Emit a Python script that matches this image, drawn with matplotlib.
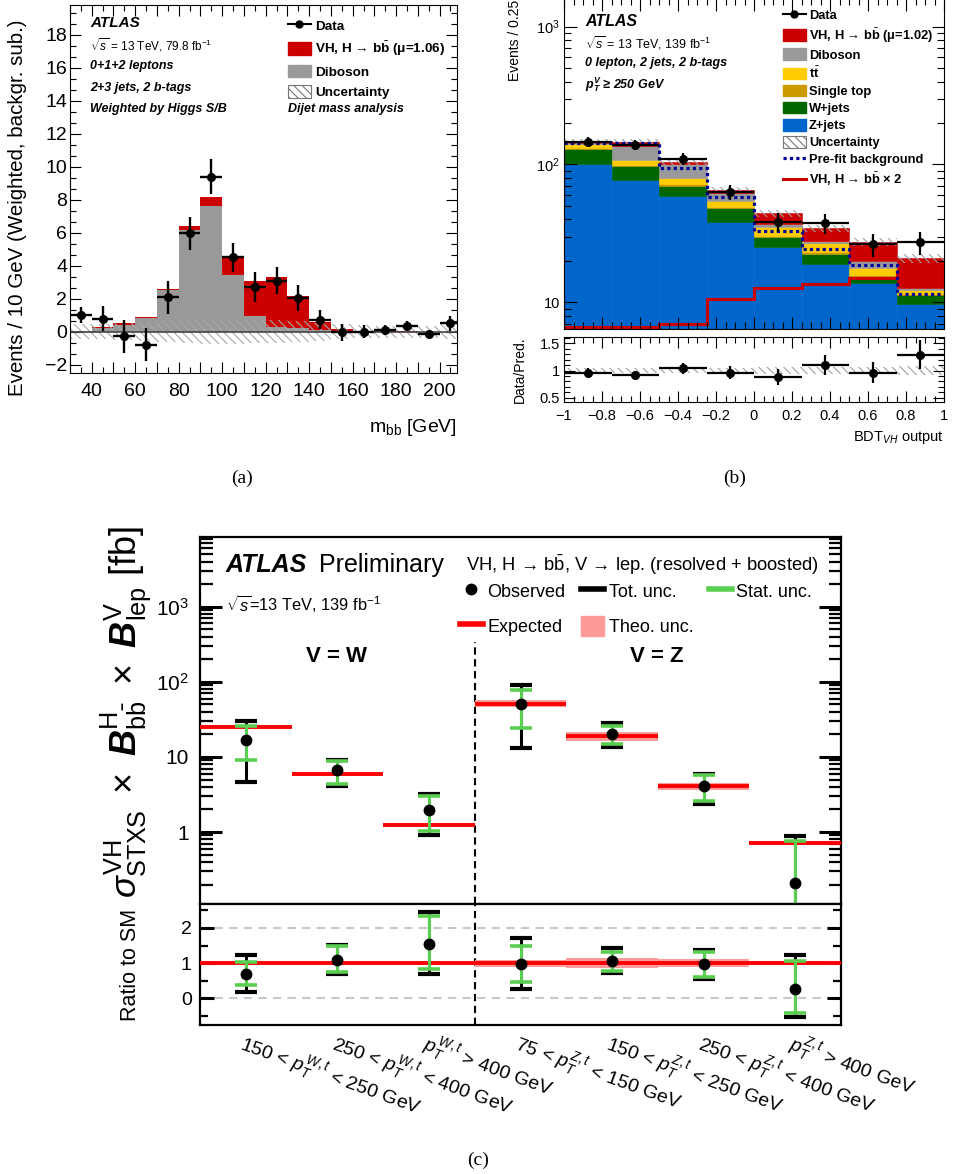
import numpy as np
import matplotlib
matplotlib.use('Agg')
import matplotlib.pyplot as plt
from matplotlib.lines import Line2D
from matplotlib.patches import Patch
from matplotlib.ticker import MultipleLocator, FixedLocator, FixedFormatter, FuncFormatter, AutoMinorLocator, LogLocator, NullFormatter

plt.rcParams['font.family'] = ['Liberation Sans', 'DejaVu Sans']
plt.rcParams['mathtext.fontset'] = 'custom'
plt.rcParams['mathtext.rm'] = 'Liberation Sans'
plt.rcParams['mathtext.it'] = 'Liberation Sans:italic'
plt.rcParams['mathtext.bf'] = 'Liberation Sans:bold'
plt.rcParams['mathtext.bfit'] = 'Liberation Sans:italic:bold'
plt.rcParams['mathtext.sf'] = 'Liberation Sans'
plt.rcParams['hatch.linewidth'] = 0.8
plt.rcParams['axes.unicode_minus'] = True

# ---------------- (a) dijet mass, background subtracted ----------------
a_edges = np.arange(30, 220, 10)
a_data = [1.0, 0.8, -0.26, -0.8, 2.1, 5.96, 9.4, 4.5, 2.7, 3.1, 2.06, 0.74, -0.04, 0.0, 0.1, 0.34, -0.14, 0.5]
a_err = [0.5, 0.75, 1.0, 1.0, 1.0, 1.0, 1.05, 0.9, 0.9, 0.84, 0.8, 0.6, 0.5, 0.4, 0.3, 0.3, 0.25, 0.45]
a_diboson = [0.02, 0.2, 0.4, 0.85, 2.5, 6.15, 7.6, 3.45, 0.95, 0.3, 0.2, 0.1, 0.05, 0.02, 0.01, 0.01, 0.0, 0.0]
a_vh = [0.01, 0.07, 0.1, 0.05, 0.12, 0.25, 0.55, 1.05, 2.15, 3.02, 1.95, 0.5, 0.1, 0.04, 0.02, 0.01, 0.01, 0.01]
a_unc = [0.45, 0.45, 0.5, 0.55, 0.65, 0.7, 0.75, 0.75, 0.7, 0.7, 0.65, 0.55, 0.45, 0.4, 0.35, 0.35, 0.35, 0.45]

# ---------------- (b) BDT output, 0 lepton ----------------
b_edges = np.linspace(-1, 1, 9)
b_zjets = [100, 77.2, 59.1, 38.5, 25.3, 19.0, 13.7, 9.8]
b_wjets = [29.6, 20.7, 11.1, 9.6, 4.3, 3.4, 1.6, 1.5]
b_stop = [2.5, 2.0, 1.5, 1.2, 0.8, 0.6, 0.4, 0.25]
b_ttbar = [7.9, 8.1, 7.7, 5.0, 5.0, 4.0, 2.0, 0.75]
b_diboson = [4.0, 29.0, 20.6, 7.5, 1.6, 1.0, 2.3, 0.5]
b_vh = [3.0, 8.0, 4.8, 3.5, 7.3, 6.4, 7.5, 8.0]
b_unc = [0.05, 0.05, 0.05, 0.05, 0.06, 0.06, 0.07, 0.08]
b_data = [146.5, 138.7, 109.7, 63.5, 38.3, 37.4, 26.3, 27.2]
b_data_err = [12, 11.8, 10.5, 8, 6.2, 6.1, 5.1, 5.2]
b_prefit = [142.6, 142.6, 94.8, 58.4, 33.1, 24.3, 18.7, 11.5]
b_sig2 = [6.6, 6.6, 7.0, 10.6, 12.6, 13.5, 15.1, 16.0]
b_ratio = [0.963, 0.92, 1.044, 0.963, 0.877, 1.105, 0.963, 1.29]
b_ratio_err = [0.08, 0.08, 0.1, 0.12, 0.15, 0.19, 0.2, 0.27]

# ---------------- (c) STXS cross sections ----------------
c_labels = ['150 < $p_T^{W,t}$ < 250 GeV', '250 < $p_T^{W,t}$ < 400 GeV', '$p_T^{W,t}$ > 400 GeV',
            '75 < $p_T^{Z,t}$ < 150 GeV', '150 < $p_T^{Z,t}$ < 250 GeV', '250 < $p_T^{Z,t}$ < 400 GeV',
            '$p_T^{Z,t}$ > 400 GeV']
c_obs = [17, 6.6, 1.95, 50, 20.5, 4.07, 0.21]
c_exp = [24.7, 5.9, 1.25, 51.5, 19, 4.07, 0.72]
c_tot_hi = [30.2, 9.0, 3.2, 89.5, 27.9, 5.9, 0.885]
c_tot_lo = [4.6, 4.07, 0.9, 13, 13.6, 2.34, -0.39]
c_stat_hi = [25.7, 8.8, 3.0, 77, 25.7, 5.8, 0.77]
c_stat_lo = [9.0, 4.4, 1.03, 24, 15.1, 2.59, -0.3]
c_theo = [0.03, 0.03, 0.04, 0.10, 0.14, 0.12, 0.05]
r_obs = [0.69, 1.09, 1.54, 0.98, 1.06, 0.97, 0.27]
r_tot_hi = [1.23, 1.51, 2.45, 1.70, 1.42, 1.36, 1.23]
r_tot_lo = [0.19, 0.69, 0.69, 0.26, 0.71, 0.55, -0.54]
r_stat_hi = [1.04, 1.49, 2.33, 1.49, 1.32, 1.32, 1.05]
r_stat_lo = [0.37, 0.75, 0.83, 0.47, 0.78, 0.60, -0.41]

W, H = 956, 1174
fig = plt.figure(figsize=(W / 100, H / 100), dpi=100)


def rect(l, t, r, b):
    return [l / W, 1 - b / H, (r - l) / W, (b - t) / H]


def ftext(x, y, s, **kw):
    kw.setdefault('va', 'center')
    fig.text(x / W, 1 - y / H, s, **kw)


def atlas_ticks(ax, size, major, minor, width=0.8):
    ax.tick_params(which='both', direction='in', top=True, right=True, labelsize=size, width=width)
    ax.tick_params(which='major', length=major)
    ax.tick_params(which='minor', length=minor)


RED = '#cc0000'
GREY = '#999999'
HATCH = '\\\\\\\\'

# ======================= panel (a) =======================
axA = fig.add_axes(rect(70, 5, 457, 373))
ac = (a_edges[:-1] + a_edges[1:]) / 2
a_dib = np.array(a_diboson)
a_u = np.array(a_unc)
axA.bar(ac, a_dib, width=10, color=GREY, lw=0)
axA.bar(ac, a_vh, bottom=a_dib, width=10, color=RED, lw=0)
axA.bar(ac, 2 * a_u, bottom=-a_u, width=10, fill=False, hatch=HATCH, edgecolor='#a8a8a8', lw=0)
axA.axhline(0, color='#444444', lw=1.2)
axA.errorbar(ac, a_data, yerr=a_err, xerr=5, fmt='o', color='k', ms=5.5, elinewidth=1.7, capsize=0)
axA.set_xlim(30, 208)
axA.set_ylim(-2.5, 19.8)
axA.xaxis.set_major_locator(MultipleLocator(10))
axA.xaxis.set_minor_locator(MultipleLocator(5))
axA.xaxis.set_major_formatter(FuncFormatter(lambda v, p: f'{int(round(v))}' if round(v) % 20 == 0 else ''))
axA.yaxis.set_major_locator(MultipleLocator(2))
axA.yaxis.set_minor_locator(AutoMinorLocator(3))
axA.yaxis.set_major_formatter(FuncFormatter(lambda v, p: f'{int(round(v))}'.replace('-', '\u2212')))
atlas_ticks(axA, 14, 8, 4)
axA.tick_params(axis='y', pad=2)
axA.tick_params(axis='x', pad=7)

ftext(18, 208, 'Events / 10 GeV (Weighted, backgr. sub.)', rotation=90, ha='center', fontsize=14.8)
ftext(457, 427, r'm$_{\rm bb}$ [GeV]', ha='right', fontsize=14)
ftext(90, 23, 'ATLAS', fontsize=11, weight='bold', style='italic')
ftext(90, 45, r'$\sqrt{s}$ = 13 TeV, 79.8 fb$^{-1}$', fontsize=8.5)
ftext(90, 66, '0+1+2 leptons', fontsize=9, weight='bold', style='italic')
ftext(90, 88, '2+3 jets, 2 b-tags', fontsize=9, weight='bold', style='italic')
ftext(90, 109, 'Weighted by Higgs S/B', fontsize=9, weight='bold', style='italic')
ftext(288, 109, 'Dijet mass analysis', fontsize=9, weight='bold', style='italic')

a_handles = [Line2D([], [], color='k', marker='o', ms=5, lw=1.5),
             Patch(facecolor=RED, edgecolor=RED),
             Patch(facecolor=GREY, edgecolor=GREY),
             Patch(facecolor='white', edgecolor='#777777', hatch=HATCH, lw=0.8)]
a_names = ['Data', r'VH, H → b$\bar{\mathbf{b}}$ (μ=1.06)', 'Diboson', 'Uncertainty']
axA.legend(a_handles, a_names, loc='upper left', bbox_to_anchor=(288 / W, 1 - 19 / H),
           bbox_transform=fig.transFigure, frameon=False, prop={'size': 9.7, 'weight': 'bold'},
           handlelength=1.7, handleheight=1.05, handletextpad=0.3, labelspacing=0.5,
           borderpad=0, borderaxespad=0)

# ======================= panel (b) =======================
axB = fig.add_axes(rect(564, -2, 944, 329))
axBr = fig.add_axes(rect(564, 337, 944, 402))
bc = (b_edges[:-1] + b_edges[1:]) / 2
bw = 0.25
stack = [(b_zjets, '#0066cc'), (b_wjets, '#006600'), (b_stop, '#cc9900'),
         (b_ttbar, '#ffcc00'), (b_diboson, GREY), (b_vh, RED)]
bottom = np.zeros(len(bc))
for vals, col in stack:
    axB.bar(bc, vals, bottom=bottom, width=bw, color=col, edgecolor=col, lw=0.4)
    bottom = bottom + np.array(vals)
b_tot = bottom
b_u = np.array(b_unc)
axB.bar(bc, 2 * b_u * b_tot, bottom=b_tot * (1 - b_u), width=bw, fill=False, hatch=HATCH,
        edgecolor='#a0a0a0', lw=0)
axB.stairs(b_sig2, b_edges, baseline=None, color=RED, lw=2.2)
axB.stairs(b_prefit, b_edges, baseline=None, color='#000099', lw=2.3, ls=(0, (1, 1)))
axB.errorbar(bc, b_data, yerr=b_data_err, xerr=bw / 2, fmt='o', color='k', ms=5.5, elinewidth=1.6, capsize=0)
axB.set_yscale('log')
axB.set_xlim(-1, 1)
axB.set_ylim(6.4, 1615)
axB.yaxis.set_major_locator(FixedLocator([10, 100, 1000]))
axB.yaxis.set_major_formatter(FixedFormatter(['10', r'$10^2$', r'$10^3$']))
axB.yaxis.set_minor_locator(LogLocator(base=10, subs=np.arange(2, 10)))
axB.yaxis.set_minor_formatter(NullFormatter())
axB.xaxis.set_major_locator(MultipleLocator(0.2))
axB.xaxis.set_minor_locator(MultipleLocator(0.05))
axB.tick_params(labelbottom=False)
atlas_ticks(axB, 10.5, 9, 5)
axB.tick_params(axis='y', pad=3)

b_r = np.array(b_ratio)
axBr.bar(bc, 2 * b_u, bottom=1 - b_u, width=bw, fill=False, hatch=HATCH, edgecolor='#a0a0a0', lw=0)
axBr.errorbar(bc, b_r, yerr=b_ratio_err, xerr=bw / 2, fmt='o', color='k', ms=5.5, elinewidth=1.6, capsize=0)
axBr.set_xlim(-1, 1)
axBr.set_ylim(0.42, 1.62)
axBr.yaxis.set_major_locator(FixedLocator([0.5, 1, 1.5]))
axBr.yaxis.set_major_formatter(FixedFormatter(['0.5', '1', '1.5']))
axBr.yaxis.set_minor_locator(MultipleLocator(0.1))
axBr.xaxis.set_major_locator(MultipleLocator(0.2))
axBr.xaxis.set_minor_locator(MultipleLocator(0.05))
axBr.xaxis.set_major_formatter(FuncFormatter(lambda v, p: f'{round(v, 2):g}'.replace('-', '\u2212')))
atlas_ticks(axBr, 10.5, 8, 4)
axBr.tick_params(axis='y', pad=3)
axBr.tick_params(axis='x', pad=5)

ftext(515, 0, 'Events / 0.25', rotation=90, ha='center', va='top', fontsize=10)
ftext(520, 370, 'Data/Pred.', rotation=90, ha='center', fontsize=10)
ftext(944, 437, r'BDT$_{VH}$ output', ha='right', fontsize=10.5)
ftext(585, 22, 'ATLAS', fontsize=11.5, weight='bold', style='italic')
ftext(585, 43, r'$\sqrt{s}$ = 13 TeV, 139 fb$^{-1}$', fontsize=9)
ftext(585, 63, '0 lepton, 2 jets, 2 b-tags', fontsize=9, weight='bold', style='italic')
ftext(585, 85, r'$\mathbfit{p}_{\mathbfit{T}}^{\mathbfit{V}}$ ≥ 250 GeV', fontsize=9, weight='bold', style='italic')

b_handles = [Line2D([], [], color='k', marker='o', ms=5, lw=1.5)]
b_handles += [Patch(facecolor=c, edgecolor=c) for c in [RED, GREY, '#ffcc00', '#cc9900', '#006600', '#0066cc']]
b_handles += [Patch(facecolor='white', edgecolor='#777777', hatch=HATCH, lw=0.8),
              Line2D([], [], color='#000099', lw=2.3, ls=(0, (1, 1))),
              Line2D([], [], color=RED, lw=2.2)]
b_names = ['Data', r'VH, H → b$\bar{\mathbf{b}}$ (μ=1.02)', 'Diboson', r't$\bar{\mathbf{t}}$', 'Single top',
           'W+jets', 'Z+jets', 'Uncertainty', 'Pre-fit background', r'VH, H → b$\bar{\mathbf{b}}$ × 2']
axB.legend(b_handles, b_names, loc='upper left', bbox_to_anchor=(783 / W, 1 - 9 / H),
           bbox_transform=fig.transFigure, frameon=False, prop={'size': 9.3, 'weight': 'bold'},
           handlelength=1.75, handleheight=1.0, handletextpad=0.25, labelspacing=0.3,
           borderpad=0, borderaxespad=0)

# ======================= panel (c) =======================
axC = fig.add_axes(rect(200, 537, 841, 904))
axCr = fig.add_axes(rect(200, 904, 841, 1025))
n = len(c_obs)
cx = np.arange(n) + 0.5
GREEN = '#5ace50'
PINK = '#ff9a9a'
ec = np.array(c_exp)
th = np.array(c_theo)


def draw_points(ax, x, y, tlo, thi, slo, shi, floor):
    y = np.array(y)
    tlo = np.clip(np.array(tlo), floor, None)
    slo = np.clip(np.array(slo), floor, None)
    ax.errorbar(x, y, yerr=[y - tlo, np.array(thi) - y], fmt='none', ecolor='k', elinewidth=2.2,
                capsize=8, capthick=3, zorder=4)
    ax.errorbar(x, y, yerr=[y - slo, np.array(shi) - y], fmt='none', ecolor=GREEN, elinewidth=2.2,
                capsize=8, capthick=2.6, zorder=5)
    ax.plot(x, y, 'o', color='k', ms=7.5, zorder=6)


axC.bar(cx, 2 * th * ec, bottom=ec * (1 - th), width=1, color=PINK, lw=0, zorder=2)
axC.hlines(ec, cx - 0.5, cx + 0.5, color='#ff0000', lw=2.8, zorder=3)
draw_points(axC, cx, c_obs, c_tot_lo, c_tot_hi, c_stat_lo, c_stat_hi, 1e-3)
axC.set_yscale('log', nonpositive='clip')
axC.set_xlim(0, n)
axC.set_ylim(0.11, 8500)
axC.vlines(3, 0.11, 340, color='k', lw=1.5, ls=(0, (3.5, 2.2)), zorder=1)
axC.yaxis.set_major_locator(FixedLocator([1, 10, 100, 1000]))
axC.yaxis.set_major_formatter(FixedFormatter(['1', '10', r'$10^2$', r'$10^3$']))
axC.yaxis.set_minor_locator(LogLocator(base=10, subs=np.arange(2, 10)))
axC.yaxis.set_minor_formatter(NullFormatter())
axC.tick_params(which='both', direction='in', left=True, right=True, top=False, bottom=False,
                labelbottom=False, labelsize=15, pad=8)
axC.tick_params(which='major', length=16, width=2.2)
axC.tick_params(which='minor', length=9, width=1.6)
for sp in axC.spines.values():
    sp.set_linewidth(1.6)

axCr.axhline(0, color='#c8c8c8', lw=1.5, ls=(0, (4, 3)), zorder=0)
axCr.axhline(2, color='#c8c8c8', lw=1.5, ls=(0, (4, 3)), zorder=0)
ones = ec / ec
axCr.bar(cx, 2 * th, bottom=ones - th, width=1, color=PINK, lw=0, zorder=2)
axCr.hlines(ones, cx - 0.5, cx + 0.5, color='#ff0000', lw=2.8, zorder=3)
axCr.axvline(3, color='k', lw=1.5, ls=(0, (3.5, 2.2)), zorder=1)
draw_points(axCr, cx, r_obs, r_tot_lo, r_tot_hi, r_stat_lo, r_stat_hi, -5)
axCr.set_xlim(0, n)
axCr.set_ylim(-0.76, 2.68)
axCr.yaxis.set_major_locator(FixedLocator([0, 1, 2]))
axCr.yaxis.set_major_formatter(FixedFormatter(['0', '1', '2']))
axCr.yaxis.set_minor_locator(MultipleLocator(0.5))
axCr.set_xticks(cx)
axCr.set_xticklabels(c_labels, rotation=-20, ha='left', va='top', rotation_mode='anchor', fontsize=14)
axCr.tick_params(axis='x', length=0, pad=4)
axCr.tick_params(axis='y', which='both', direction='in', left=True, right=True, labelsize=14, pad=6)
axCr.tick_params(axis='y', which='major', length=10, width=2.2)
axCr.tick_params(axis='y', which='minor', length=6, width=1.6)
for sp in axCr.spines.values():
    sp.set_linewidth(1.6)

ftext(126, 712, r'$\sigma^{\rm VH}_{\rm STXS}\ \times\ \mathbfit{B}^{\rm H}_{\rm b\bar{b}}\ \times\ \mathbfit{B}^{\rm V}_{\rm lep}$ [fb]',
      rotation=90, ha='center', fontsize=26)
ftext(130, 965, 'Ratio to SM', rotation=90, ha='center', fontsize=15.5)
ftext(226, 565, 'ATLAS', fontsize=18, weight='bold', style='italic')
ftext(319, 565, 'Preliminary', fontsize=18)
ftext(466, 565, r'VH, H → b$\bar{\rm b}$, V → lep. (resolved + boosted)', fontsize=13.2)
ftext(226, 604, r'$\sqrt{s}$=13 TeV, 139 fb$^{-1}$', fontsize=11.8)
ftext(337, 657, 'V = W', ha='center', fontsize=16, weight='bold')
ftext(657, 657, 'V = Z', ha='center', fontsize=16, weight='bold')

c_handles = [Line2D([], [], color='k', marker='o', ms=7.5, lw=0),
             Line2D([], [], color='#ff0000', lw=4),
             Line2D([], [], color='k', lw=4),
             Patch(facecolor=PINK, edgecolor=PINK),
             Line2D([], [], color=GREEN, lw=4)]
c_names = ['Observed', 'Expected', 'Tot. unc.', 'Theo. unc.', 'Stat. unc.']
axC.legend(c_handles, c_names, ncol=3, loc='upper left', bbox_to_anchor=(460 / W, 1 - 581 / H),
           bbox_transform=fig.transFigure, frameon=False, fontsize=13,
           handlelength=1.25, handleheight=1.3, handletextpad=0.25, labelspacing=0.85,
           columnspacing=0.9, borderpad=0, borderaxespad=0)

ftext(242, 478, '(a)', ha='center', fontsize=14, family='Liberation Serif')
ftext(735, 478, '(b)', ha='center', fontsize=14, family='Liberation Serif')
ftext(478, 1160, '(c)', ha='center', fontsize=14, family='Liberation Serif')

fig.savefig('out.png', dpi=100)
